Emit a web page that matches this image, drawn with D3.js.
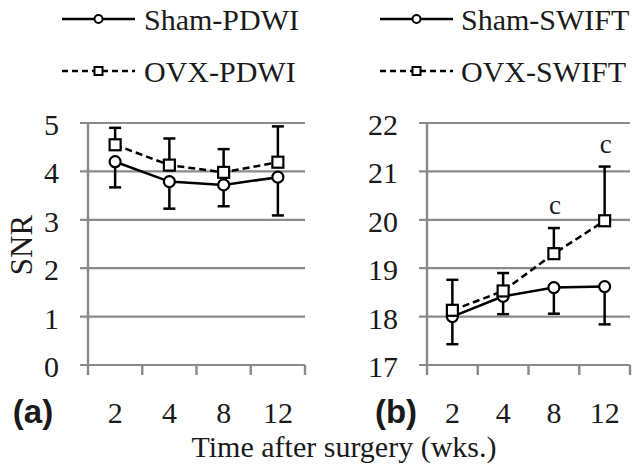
<!DOCTYPE html>
<html><head><meta charset="utf-8">
<script src="https://cdn.jsdelivr.net/npm/d3@7"></script>
<style>
html,body{margin:0;padding:0;background:#fff;}
svg{display:block;}
</style></head>
<body>
<svg id="chart" width="637" height="470"></svg>
<script>
const categories = ["2","4","8","12"];
// Panel (a) PDWI
const shamPDWI = [4.20, 3.79, 3.72, 3.88];
const shamPDWIErr = [0.53, 0.56, 0.44, 0.79];
const ovxPDWI = [4.55, 4.13, 3.98, 4.19];
const ovxPDWIErr = [0.35, 0.55, 0.48, 0.74];
const yTicksA = [0,1,2,3,4,5];
// Panel (b) SWIFT
const shamSWIFT = [18.00, 18.42, 18.60, 18.62];
const shamSWIFTErr = [0.57, 0.37, 0.54, 0.78];
const ovxSWIFT = [18.13, 18.53, 19.30, 19.98];
const ovxSWIFTErr = [0.63, 0.37, 0.53, 1.12];
const yTicksB = [17,18,19,20,21,22];
const sigLabels = ["", "", "c", "c"];
const legendA = ["Sham-PDWI","OVX-PDWI"];
const legendB = ["Sham-SWIFT","OVX-SWIFT"];
const xTitle = "Time after surgery (wks.)";
const yTitle = "SNR";

const SERIF = "'Liberation Serif', Tinos, 'Times New Roman', 'DejaVu Serif', serif";
const SANS = "'Liberation Sans', Arimo, Arial, sans-serif";
const svg = d3.select("#chart");
const gridColor = "#8a8a8a";
const textColor = "#1a1a1a";
const plotTop = 123, plotBottom = 365;

function txt(g){
  return g.append("text").attr("font-family", SERIF).attr("fill", textColor);
}

function panel(opts){
  const x = d3.scaleBand().domain(categories).range([opts.x0, opts.x1]);
  const y = d3.scaleLinear().domain(opts.domain).range([plotBottom, plotTop]);
  const g = svg.append("g");
  g.selectAll(".grid").data(opts.ticks).enter().append("line")
    .attr("x1", opts.x0 - 8).attr("x2", opts.x1)
    .attr("y1", d => y(d)).attr("y2", d => y(d))
    .attr("stroke", gridColor).attr("stroke-width", 2.2);
  g.append("line").attr("x1", opts.x0).attr("x2", opts.x0)
    .attr("y1", plotTop).attr("y2", plotBottom + 10)
    .attr("stroke", gridColor).attr("stroke-width", 2.4);
  const bounds = categories.map(c => x(c)).concat([opts.x1]);
  g.selectAll(".xt").data(bounds.slice(1)).enter().append("line")
    .attr("x1", d => d).attr("x2", d => d)
    .attr("y1", plotBottom).attr("y2", plotBottom + 10)
    .attr("stroke", gridColor).attr("stroke-width", 2.4);
  g.selectAll(".yl").data(opts.ticks).enter().append("text")
    .attr("font-family", SERIF).attr("fill", textColor)
    .attr("x", opts.x0 - 29).attr("y", d => y(d) + 12)
    .attr("text-anchor", "end").attr("font-size", 30).text(d => d);
  g.selectAll(".xl").data(categories).enter().append("text")
    .attr("font-family", SERIF).attr("fill", textColor)
    .attr("x", d => x(d) + x.bandwidth()/2).attr("y", 423)
    .attr("text-anchor", "middle").attr("font-size", 30).text(d => d);
  g.append("text").attr("font-family", SANS).attr("font-weight","bold").attr("fill", textColor)
    .attr("x", opts.letterX).attr("y", 423)
    .attr("text-anchor","middle").attr("font-size", 33).text(opts.letter);

  const cx = d => x(d) + x.bandwidth()/2;
  const lineGen = vals => d3.line().x((v,i) => cx(categories[i])).y(v => y(v))(vals);
  g.append("path").attr("d", lineGen(opts.sham)).attr("fill","none")
    .attr("stroke","#000").attr("stroke-width",2.5);
  g.append("path").attr("d", lineGen(opts.ovx)).attr("fill","none")
    .attr("stroke","#000").attr("stroke-width",2.5).attr("stroke-dasharray","7,4");
  const errBar = (vals, errs, dir) => {
    vals.forEach((v,i) => {
      const xc = cx(categories[i]);
      const yEnd = y(v + dir*errs[i]);
      g.append("line").attr("x1",xc).attr("x2",xc).attr("y1",y(v)).attr("y2",yEnd)
        .attr("stroke","#000").attr("stroke-width",2.5);
      g.append("line").attr("x1",xc-6).attr("x2",xc+6).attr("y1",yEnd).attr("y2",yEnd)
        .attr("stroke","#000").attr("stroke-width",2.5);
    });
  };
  errBar(opts.sham, opts.shamErr, -1);
  errBar(opts.ovx, opts.ovxErr, 1);
  opts.sham.forEach((v,i) => {
    g.append("circle").attr("cx", cx(categories[i])).attr("cy", y(v)).attr("r", 5.5)
      .attr("fill","#fff").attr("stroke","#000").attr("stroke-width",2.2);
  });
  opts.ovx.forEach((v,i) => {
    g.append("rect").attr("x", cx(categories[i]) - 5.5).attr("y", y(v) - 5.5)
      .attr("width", 11).attr("height", 11)
      .attr("fill","#fff").attr("stroke","#000").attr("stroke-width",2.2);
  });
  if (opts.sig) {
    opts.sig.forEach((s,i) => {
      if (!s) return;
      txt(g).attr("x", cx(categories[i]) + 1)
        .attr("y", y(opts.ovx[i] + opts.ovxErr[i]) - 14)
        .attr("text-anchor","middle").attr("font-size", 27).text(s);
    });
  }
  return {x, y};
}

panel({x0: 88, x1: 305, domain: [0,5], ticks: yTicksA, sham: shamPDWI, shamErr: shamPDWIErr,
  ovx: ovxPDWI, ovxErr: ovxPDWIErr, letter: "(a)", letterX: 33});
panel({x0: 427, x1: 630, domain: [17,22], ticks: yTicksB, sham: shamSWIFT, shamErr: shamSWIFTErr,
  ovx: ovxSWIFT, ovxErr: ovxSWIFTErr, letter: "(b)", letterX: 396, sig: sigLabels});

txt(svg).attr("x", 344).attr("y", 457).attr("text-anchor","middle")
  .attr("font-size", 30).text(xTitle);
txt(svg).attr("transform","translate(32,245) rotate(-90)")
  .attr("text-anchor","middle").attr("font-size", 31).text(yTitle);

function legend(x0, x1, textX, labels){
  const rows = [19, 71];
  labels.forEach((lab, i) => {
    const yy = rows[i];
    const g = svg.append("g");
    g.append("line").attr("x1", x0).attr("x2", x1).attr("y1", yy).attr("y2", yy)
      .attr("stroke","#000").attr("stroke-width",2.5)
      .attr("stroke-dasharray", i === 1 ? "6,4" : null);
    const mx = (x0 + x1) / 2;
    if (i === 0) {
      g.append("circle").attr("cx", mx).attr("cy", yy).attr("r", 4)
        .attr("fill","#fff").attr("stroke","#000").attr("stroke-width",2);
    } else {
      g.append("rect").attr("x", mx - 4).attr("y", yy - 4).attr("width", 8).attr("height", 8)
        .attr("fill","#fff").attr("stroke","#000").attr("stroke-width",2);
    }
    txt(g).attr("x", textX).attr("y", yy + 11).attr("font-size", 30).text(lab);
  });
}
legend(62, 135, 144, legendA);
legend(380, 453, 461, legendB);
</script>
</body></html>
